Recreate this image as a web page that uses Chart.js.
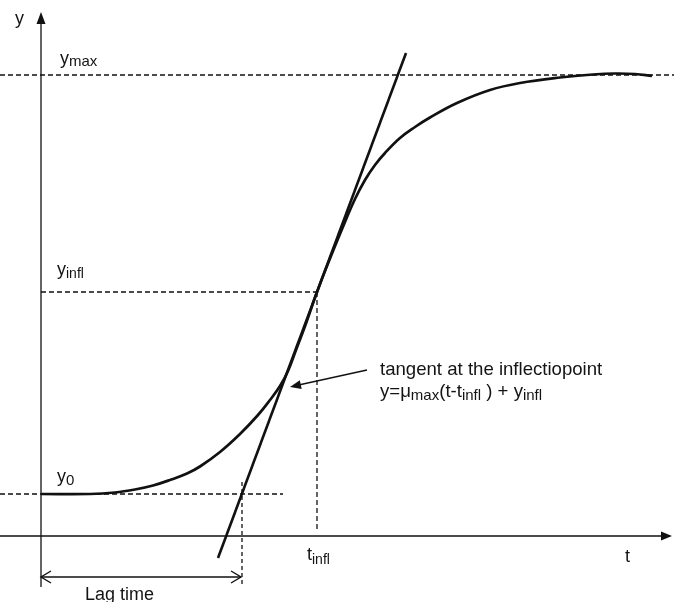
<!DOCTYPE html>
<html>
<head>
<meta charset="utf-8">
<script src="https://cdn.jsdelivr.net/npm/chart.js@4/dist/chart.umd.min.js"></script>
<style>
  html, body { margin: 0; padding: 0; background: #fff; }
  #wrap { width: 674px; height: 602px; }
</style>
</head>
<body>
<div id="wrap"><canvas id="c" width="674" height="602"></canvas></div>
<script>
// Growth curve (time t, population y)
const curveT = [0, 4.9, 7.4, 9.4, 11.2, 12.9, 14.6, 15.9, 17.9, 19.9, 21.7, 22.9, 23.9, 24.7, 25.5, 26.5, 27.6, 28.9, 30.4, 31.4, 32.4, 33.4, 34.4, 35.9, 37.4, 38.9, 41.6, 44.9, 47.9, 51.9, 55.2, 57.4, 59.4, 61.1];
const curveY = [4.2, 4.2, 4.35, 4.65, 5.05, 5.6, 6.25, 6.95, 8.4, 10.2, 12.1, 13.6, 15.0, 16.5, 18.6, 21.25, 24.4, 27.75, 31.4, 33.7, 35.6, 37.1, 38.3, 39.8, 40.9, 41.85, 43.3, 44.6, 45.3, 45.85, 46.15, 46.25, 46.2, 46.0];

// Characteristic values
const y0 = 4.2;
const yMax = 46.1;
const tInfl = 27.6;
const yInfl = 24.4;
const lagTime = 20.1;

// Tangent at the inflection point: y = mu_max (t - t_infl) + y_infl
const tangentT = [17.7, 36.5];
const tangentY = [-2.2, 48.3];

// Visible extent of the t and y scales
const tRange = [-4.1, 63.3];
const yRange = [-6.6, 53.6];

// Axis line extents
const tAxisEnd = 63.1;
const yAxisTop = 52.4;
const yAxisBottom = -5.1;

const pts = (xs, ys) => xs.map((x, i) => ({ x, y: ys[i] }));

const INK = '#111';
const dashed = (data) => ({
  data, showLine: true, borderColor: INK, borderWidth: 1.3,
  borderDash: [5, 3], pointRadius: 0, fill: false
});
const solid = (data, w) => ({
  data, showLine: true, borderColor: INK, borderWidth: w,
  pointRadius: 0, fill: false
});

const datasets = [
  Object.assign(solid(pts(curveT, curveY), 2.7), { tension: 0.4 }),
  solid(pts(tangentT, tangentY), 2.6),
  // axes
  solid([{ x: 0, y: yAxisBottom }, { x: 0, y: yAxisTop - 1.0 }], 1.3),
  solid([{ x: tRange[0], y: 0 }, { x: tAxisEnd - 1.0, y: 0 }], 1.3),
  // guide lines
  dashed([{ x: tRange[0], y: yMax }, { x: tRange[1], y: yMax }]),
  dashed([{ x: 0, y: yInfl }, { x: tInfl, y: yInfl }]),
  dashed([{ x: tInfl, y: yInfl }, { x: tInfl, y: 0.4 }]),
  dashed([{ x: tRange[0], y: y0 }, { x: 24.2, y: y0 }]),
  Object.assign(dashed([{ x: lagTime, y: 5.4 }, { x: lagTime, y: -4.9 }]), { borderDash: [4, 3] }),
  // lag time span
  solid([{ x: 0, y: -4.1 }, { x: lagTime - 0.1, y: -4.1 }], 1.4),
  // pointer to the tangent
  solid([{ x: 32.6, y: 16.6 }, { x: 25.3, y: 15.0 }], 1.5)
];

const FONT = '"Liberation Sans", Arial, Helvetica, sans-serif';

// Draw text pieces in sequence; each piece is [text, size, baselineShift]
function rich(ctx, x, y, parts) {
  let cx = x;
  for (const [txt, size, dy] of parts) {
    ctx.font = size + 'px ' + FONT;
    ctx.fillText(txt, cx, y + dy);
    cx += ctx.measureText(txt).width;
  }
}

function filledHead(ctx, tip, from, len, half) {
  const a = Math.atan2(tip.y - from.y, tip.x - from.x);
  ctx.beginPath();
  ctx.moveTo(tip.x, tip.y);
  ctx.lineTo(tip.x - len * Math.cos(a) + half * Math.sin(a), tip.y - len * Math.sin(a) - half * Math.cos(a));
  ctx.lineTo(tip.x - len * Math.cos(a) - half * Math.sin(a), tip.y - len * Math.sin(a) + half * Math.cos(a));
  ctx.closePath();
  ctx.fill();
}

function openHead(ctx, tip, from, len, half) {
  const a = Math.atan2(tip.y - from.y, tip.x - from.x);
  ctx.beginPath();
  ctx.moveTo(tip.x - len * Math.cos(a) + half * Math.sin(a), tip.y - len * Math.sin(a) - half * Math.cos(a));
  ctx.lineTo(tip.x, tip.y);
  ctx.lineTo(tip.x - len * Math.cos(a) - half * Math.sin(a), tip.y - len * Math.sin(a) + half * Math.cos(a));
  ctx.stroke();
}

const decorations = {
  id: 'decorations',
  afterDatasetsDraw(chart) {
    const { ctx } = chart;
    const sx = chart.scales.x, sy = chart.scales.y;
    const P = (t, y) => ({ x: sx.getPixelForValue(t), y: sy.getPixelForValue(y) });
    ctx.save();
    ctx.fillStyle = INK;
    ctx.strokeStyle = INK;
    ctx.lineWidth = 1.4;
    ctx.lineJoin = 'miter';

    // axis arrowheads
    filledHead(ctx, P(0, yAxisTop), P(0, 0), 12, 4.5);
    filledHead(ctx, P(tAxisEnd, 0), P(0, 0), 11, 4.5);

    // lag time double arrow
    openHead(ctx, P(0, -4.1), P(lagTime, -4.1), 10, 6);
    openHead(ctx, P(lagTime - 0.1, -4.1), P(0, -4.1), 10, 6);

    // pointer head
    filledHead(ctx, P(24.9, 14.9), P(32.6, 16.6), 11, 4.5);

    // labels
    ctx.fillStyle = '#141414';
    ctx.textBaseline = 'alphabetic';
    let p;
    p = P(-2.6, 51.2); rich(ctx, p.x, p.y, [['y', 18, 0]]);
    p = P(1.9, 47.2); rich(ctx, p.x, p.y, [['y', 18, 0], ['max', 15, 2]]);
    p = P(1.6, 26.1); rich(ctx, p.x, p.y, [['y', 18, 0], ['infl', 14, 3]]);
    p = P(1.6, 5.4);  rich(ctx, p.x, p.y, [['y', 18, 0], ['0', 15, 3]]);
    p = P(26.6, -2.4); rich(ctx, p.x, p.y, [['t', 18, 0], ['infl', 14, 4]]);
    p = P(58.4, -2.6); rich(ctx, p.x, p.y, [['t', 18, 0]]);
    p = P(4.4, -6.4); rich(ctx, p.x, p.y, [['Lag time', 18, 0]]);
    p = P(33.9, 16.1); rich(ctx, p.x, p.y, [['tangent at the inflectiopoint', 18.6, 0]]);
    p = P(33.9, 13.9); rich(ctx, p.x, p.y, [
      ['y=\u03BC', 18.6, 0], ['max', 15, 3], ['(t-t', 18.6, 0], ['infl', 15, 3],
      [' ) + y', 18.6, 0], ['infl', 15, 3]
    ]);
    ctx.restore();
  }
};

new Chart(document.getElementById('c'), {
  type: 'scatter',
  data: { datasets },
  options: {
    responsive: false,
    animation: false,
    devicePixelRatio: 1,
    layout: { padding: 0 },
    plugins: { legend: { display: false }, tooltip: { enabled: false } },
    scales: {
      x: { type: 'linear', min: tRange[0], max: tRange[1], display: false },
      y: { type: 'linear', min: yRange[0], max: yRange[1], display: false }
    }
  },
  plugins: [decorations]
});
</script>
</body>
</html>
